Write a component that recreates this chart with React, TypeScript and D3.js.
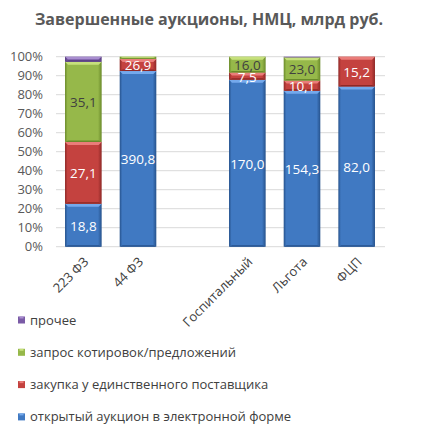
import React from "react";
import * as d3 from "d3";

const categories = ["223 ФЗ", "44 ФЗ", "", "Госпитальный", "Льгота", "ФЦП"];
const seriesNames = [
  "открытый аукцион в электронной форме",
  "закупка у единственного поставщика",
  "запрос котировок/предложений",
  "прочее",
];
const auction = [18.8, 390.8, 0, 170.0, 154.3, 82.0];
const singleSupplier = [27.1, 26.9, 0, 7.5, 10.1, 15.2];
const quotation = [35.1, 5.0, 0, 16.0, 23.0, 0];
const other = [2.2, 0, 0, 0, 0.6, 0];
const percentTicks = [0, 0.1, 0.2, 0.3, 0.4, 0.5, 0.6, 0.7, 0.8, 0.9, 1.0];

const colors = [
  { base: "#4079C2", light: "#74A9EC", dark: "#26528C" },
  { base: "#C4423F", light: "#EA7D7A", dark: "#8E2826" },
  { base: "#96B84A", light: "#C6E07C", dark: "#6A8A2A" },
  { base: "#7A5BA6", light: "#A98ED0", dark: "#553A7E" },
];
const labelColors = ["#FFFFFF", "#FFFFFF", "#404040", "#404040"];

const W = 448;
const H = 433;
const plotLeft = 56;
const plotRight = 384;
const plotTop = 56.7;
const plotBottom = 246.7;
const FONT = "'Open Sans', 'Noto Sans', sans-serif";

export default function App() {
  const x = d3
    .scaleBand<string>()
    .domain(categories.map((c, i) => String(i)))
    .range([plotLeft, plotRight])
    .paddingInner(0.33)
    .paddingOuter(0.165);
  const y = d3.scaleLinear().domain([0, 1]).range([plotBottom, plotTop]);

  const rows = categories.map((c, i) => ({
    key: String(i),
    s0: auction[i],
    s1: singleSupplier[i],
    s2: quotation[i],
    s3: other[i],
  }));
  const stack = d3
    .stack<any>()
    .keys(["s0", "s1", "s2", "s3"])
    .offset(d3.stackOffsetExpand);
  const stacked = stack(rows);
  const raw = [auction, singleSupplier, quotation, other];
  const fmt = (v: number) => v.toFixed(1).replace(".", ",");
  const bw = x.bandwidth();

  return (
    <div style={{ position: "fixed", left: 0, top: 0 }}>
      <svg width={W} height={H} style={{ display: "block", background: "#fff" }}>
        <defs>
          {colors.map((c, i) => (
            <linearGradient key={i} id={`g${i}`} x1="0" x2="1" y1="0" y2="0">
              <stop offset="0" stopColor={c.dark} />
              <stop offset="0.07" stopColor={c.base} />
              <stop offset="0.5" stopColor={c.base} />
              <stop offset="0.9" stopColor={c.base} />
              <stop offset="1" stopColor={c.dark} />
            </linearGradient>
          ))}
        </defs>
        <text
          x={209}
          y={25}
          textAnchor="middle"
          fontFamily={FONT}
          fontWeight="bold"
          fontSize={16}
          fill="#595959"
        >
          Завершенные аукционы, НМЦ, млрд руб.
        </text>
        {percentTicks.map((t) => (
          <g key={t}>
            <line
              x1={plotLeft}
              x2={plotRight + 1}
              y1={y(t)}
              y2={y(t)}
              stroke="#D9D9D9"
              strokeWidth={1}
            />
            <text
              x={43}
              y={y(t) + 4.5}
              textAnchor="end"
              fontFamily={FONT}
              fontSize={13}
              fill="#595959"
            >
              {`${Math.round(t * 100)}%`}
            </text>
          </g>
        ))}
        {stacked.map((layer, si) =>
          layer.map((d, ci) => {
            const v = raw[si][ci];
            if (!v) return null;
            const x0 = x(String(ci)) as number;
            const yTop = y(d[1]);
            const yBot = y(d[0]);
            const h = yBot - yTop;
            const c = colors[si];
            const bev = Math.min(3, h / 2);
            return (
              <g key={`${si}-${ci}`}>
                <rect x={x0} y={yTop} width={bw} height={h} fill={`url(#g${si})`} />
                <polygon
                  points={`${x0},${yTop} ${x0 + bw},${yTop} ${x0 + bw - 3},${yTop + bev} ${x0 + 3},${yTop + bev}`}
                  fill={c.light}
                />
                <polygon
                  points={`${x0},${yBot} ${x0 + bw},${yBot} ${x0 + bw - 3},${yBot - Math.min(1.5, h / 3)} ${x0 + 3},${yBot - Math.min(1.5, h / 3)}`}
                  fill={c.dark}
                />
              </g>
            );
          })
        )}
        {stacked.map((layer, si) =>
          layer.map((d, ci) => {
            const v = raw[si][ci];
            if (!v || d[1] - d[0] <= 0.03) return null;
            const x0 = x(String(ci)) as number;
            const yTop = y(d[1]);
            const yBot = y(d[0]);
            return (
              <text
                key={`l${si}-${ci}`}
                x={x0 + bw / 2}
                y={(yTop + yBot) / 2 + 5.5}
                textAnchor="middle"
                fontFamily={FONT}
                fontSize={13.5}
                fill={labelColors[si]}
              >
                {fmt(v)}
              </text>
            );
          })
        )}
        {categories.map((c, i) =>
          c ? (
            <text
              key={i}
              transform={`translate(${(x(String(i)) as number) + bw / 2 + 6},${plotBottom + 16}) rotate(-45)`}
              textAnchor="end"
              fontFamily={FONT}
              fontSize={13}
              fill="#404040"
            >
              {c}
            </text>
          ) : null
        )}
        {[3, 2, 1, 0].map((si, k) => {
          const cy = 320 + k * 32.3;
          const c = colors[si];
          return (
            <g key={si}>
              <rect x={18} y={cy - 3.5} width={7} height={7} fill={c.base} />
              <rect x={19.5} y={cy - 3.5} width={4} height={2} fill={c.light} />
              <text
                x={30}
                y={cy + 4.5}
                fontFamily={FONT}
                fontSize={13}
                fill="#404040"
              >
                {seriesNames[si]}
              </text>
            </g>
          );
        })}
      </svg>
    </div>
  );
}
